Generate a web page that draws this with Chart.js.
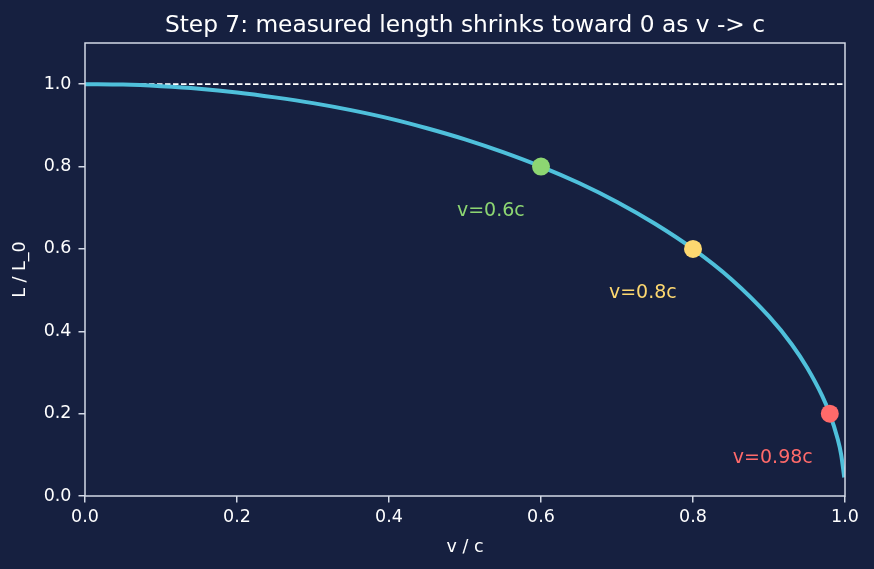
<!DOCTYPE html>
<html>
<head>
<meta charset="utf-8">
<script src="https://cdn.jsdelivr.net/npm/chart.js@4"></script>
<style>
  html, body { margin: 0; padding: 0; background: #162040; }
  #wrap { width: 874px; height: 569px; }
</style>
</head>
<body>
<div id="wrap"><canvas id="chart" width="874" height="569"></canvas></div>
<script>
// values
var speeds = [0, 0.05, 0.1, 0.15, 0.2, 0.25, 0.3, 0.35, 0.4, 0.45, 0.5, 0.55, 0.6, 0.65, 0.7, 0.75, 0.8, 0.85, 0.9, 0.93, 0.95, 0.97, 0.98, 0.99, 0.995, 0.999];
var lengths = [1.0, 0.999, 0.995, 0.989, 0.980, 0.968, 0.954, 0.937, 0.917, 0.893, 0.866, 0.835, 0.800, 0.760, 0.714, 0.661, 0.600, 0.527, 0.436, 0.368, 0.312, 0.243, 0.199, 0.141, 0.100, 0.045];

var markSpeeds = [0.6, 0.8, 0.98];
var markLengths = [0.8, 0.6, 0.2];
var markColors = ['#8dd672', '#fdd870', '#ff6a6a'];
var markLabels = ['v=0.6c', 'v=0.8c', 'v=0.98c'];
var labelX = [0.534, 0.734, 0.905];
var labelY = [0.692, 0.493, 0.092];

var xTicks = [0, 0.2, 0.4, 0.6, 0.8, 1.0];
var yTicks = [0, 0.2, 0.4, 0.6, 0.8, 1.0];

var titleText = 'Step 7: measured length shrinks toward 0 as v -> c';
var fg = '#ffffff';
var frame = '#d3d9e6';
var font = 'DejaVu Sans';

var curve = [];
speeds.forEach(function(v, i) { curve.push({x: v, y: lengths[i]}); });
var marks = [];
markSpeeds.forEach(function(v, i) { marks.push({x: v, y: markLengths[i]}); });

var extras = {
  id: 'extras',
  beforeDatasetsDraw: function(chart) {
    var ctx = chart.ctx, a = chart.chartArea;
    var y1 = chart.scales.y.getPixelForValue(1.0);
    ctx.save();
    ctx.strokeStyle = '#ffffff';
    ctx.lineWidth = 1.8;
    ctx.setLineDash([5.5, 2.5]);
    ctx.beginPath();
    ctx.moveTo(a.left, y1);
    ctx.lineTo(a.right, y1);
    ctx.stroke();
    ctx.restore();
  },
  afterDraw: function(chart) {
    var ctx = chart.ctx, a = chart.chartArea;
    ctx.save();
    ctx.strokeStyle = frame;
    ctx.lineWidth = 1.5;
    ctx.strokeRect(a.left, a.top, a.right - a.left, a.bottom - a.top);

    // title centred over the plot area, like matplotlib does
    ctx.fillStyle = fg;
    ctx.font = '23.3px "' + font + '"';
    ctx.textAlign = 'center';
    ctx.textBaseline = 'alphabetic';
    ctx.fillText(titleText, (a.left + a.right) / 2, 32);

    ctx.font = '19px "' + font + '"';
    ctx.textBaseline = 'middle';
    markLabels.forEach(function(t, i) {
      ctx.fillStyle = markColors[i];
      ctx.fillText(t, chart.scales.x.getPixelForValue(labelX[i]), chart.scales.y.getPixelForValue(labelY[i]));
    });
    ctx.restore();
  }
};

new Chart(document.getElementById('chart').getContext('2d'), {
  type: 'scatter',
  data: {
    datasets: [
      {
        data: marks,
        pointRadius: 9,
        pointHoverRadius: 9,
        pointBackgroundColor: markColors,
        pointBorderWidth: 0,
        showLine: false
      },
      {
        data: curve,
        showLine: true,
        borderColor: '#4fc0db',
        borderWidth: 4,
        pointRadius: 0,
        cubicInterpolationMode: 'monotone'
      }
    ]
  },
  options: {
    responsive: false,
    animation: false,
    layout: { padding: { left: 0, right: 29, top: 43, bottom: 0 } },
    plugins: {
      legend: { display: false },
      tooltip: { enabled: false },
      title: { display: false }
    },
    scales: {
      x: {
        type: 'linear',
        min: 0, max: 1,
        afterBuildTicks: function(s) { s.ticks = xTicks.map(function(v) { return {value: v}; }); },
        afterFit: function(s) { s.height = 73; },
        ticks: { color: fg, font: { family: font, size: 17.5 }, padding: 4,
                 callback: function(v) { return v.toFixed(1); } },
        grid: { display: true, drawOnChartArea: false, color: frame, tickLength: 6.5, lineWidth: 1.5 },
        border: { display: false },
        title: { display: true, text: 'v / c', color: fg, font: { family: font, size: 17.5 }, padding: { top: 6, bottom: 11.5 } }
      },
      y: {
        type: 'linear',
        min: 0, max: 1.1,
        afterBuildTicks: function(s) { s.ticks = yTicks.map(function(v) { return {value: v}; }); },
        afterFit: function(s) { s.width = 85; },
        ticks: { color: fg, font: { family: font, size: 17.5 }, padding: 7,
                 callback: function(v) { return v.toFixed(1); } },
        grid: { display: true, drawOnChartArea: false, color: frame, tickLength: 6.5, lineWidth: 1.5 },
        border: { display: false },
        title: { display: true, text: 'L / L_0', color: fg, font: { family: font, size: 17.5 }, padding: { top: 10, bottom: 0 } }
      }
    }
  },
  plugins: [extras]
});
</script>
</body>
</html>
